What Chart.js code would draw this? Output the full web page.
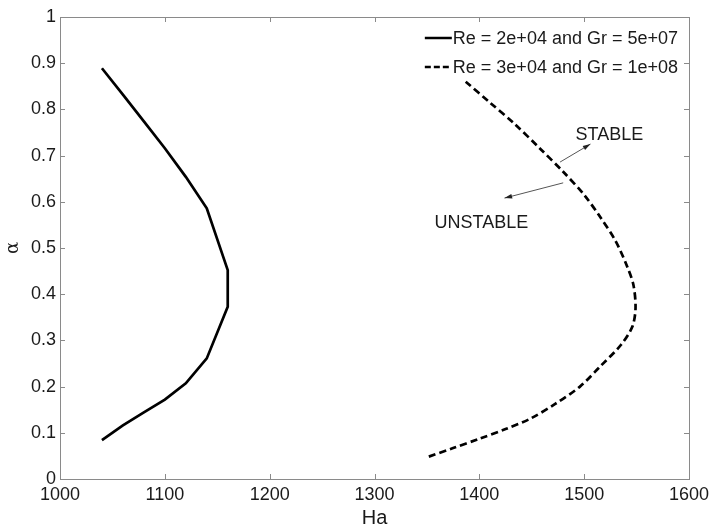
<!DOCTYPE html>
<html>
<head>
<meta charset="utf-8">
<script src="https://cdn.jsdelivr.net/npm/chart.js@4"></script>
<style>
  body { margin: 0; background: #fff; }
  #wrap { width: 725px; height: 531px; }
</style>
</head>
<body>
<div id="wrap"><canvas id="stab"></canvas></div>
<script>
// ---------------- data ----------------
const haTicks = [1000, 1100, 1200, 1300, 1400, 1500, 1600];
const alphaTicks = [0, 0.1, 0.2, 0.3, 0.4, 0.5, 0.6, 0.7, 0.8, 0.9, 1];

// Re = 2e+04, Gr = 5e+07 (solid)
const solidHa    = [1040, 1060, 1080, 1100, 1120, 1140, 1160, 1160, 1140, 1120, 1100, 1080, 1060, 1040];
const solidAlpha = [0.889, 0.832, 0.774, 0.716, 0.654, 0.586, 0.452, 0.373, 0.261, 0.207, 0.172, 0.144, 0.116, 0.084];

// Re = 3e+04, Gr = 1e+08 (dashed)
const dashedHa    = [1387, 1410, 1433, 1458, 1480, 1500, 1515, 1530, 1541, 1547, 1549, 1546, 1535, 1515, 1496, 1472, 1449, 1425, 1400, 1375, 1350];
const dashedAlpha = [0.86, 0.815, 0.77, 0.715, 0.665, 0.615, 0.568, 0.515, 0.46, 0.42, 0.37, 0.33, 0.29, 0.243, 0.2, 0.162, 0.131, 0.108, 0.087, 0.067, 0.047];

const seriesLabels = ['Re = 2e+04 and Gr = 5e+07', 'Re = 3e+04 and Gr = 1e+08'];

// text labels with arrows (data coords)
const notes = [
    { text: 'STABLE',   at: [1524, 0.745], from: [1477, 0.686], to: [1506, 0.725] },
    { text: 'UNSTABLE', at: [1402, 0.554], from: [1480, 0.641], to: [1424, 0.608] }
];

const FONT = '"Liberation Sans", Arial, sans-serif';
const AXIS = '#8a8a8a';
const INK = '#1a1a1a';

function toPoints(xs, ys){
    return xs.map((v, i) => ({ x: v, y: ys[i] }));
}

// ---------------- box, inward ticks, legend, notes ----------------
const overlay = {
    id: 'overlay',
    afterDatasetsDraw(chart){
        const { ctx, chartArea: a, scales: { x, y } } = chart;
        ctx.save();

        ctx.strokeStyle = AXIS;
        ctx.lineWidth = 1;
        ctx.strokeRect(a.left + 0.5, a.top + 0.5, a.right - a.left, a.bottom - a.top);

        ctx.beginPath();
        haTicks.forEach(v => {
            const px = Math.round(x.getPixelForValue(v)) + 0.5;
            ctx.moveTo(px, a.bottom); ctx.lineTo(px, a.bottom - 5);
            ctx.moveTo(px, a.top);    ctx.lineTo(px, a.top + 5);
        });
        alphaTicks.forEach(v => {
            const py = Math.round(y.getPixelForValue(v)) + 0.5;
            ctx.moveTo(a.left, py);  ctx.lineTo(a.left + 5, py);
            ctx.moveTo(a.right, py); ctx.lineTo(a.right - 5, py);
        });
        ctx.stroke();

        // legend, top right inside the box
        ctx.font = '18px ' + FONT;
        ctx.fillStyle = INK;
        ctx.textBaseline = 'middle';
        ctx.textAlign = 'left';
        const w = Math.max(...seriesLabels.map(s => ctx.measureText(s).width));
        const tx = a.right - 11 - w;
        chart.data.datasets.forEach((ds, i) => {
            const ly = a.top + 21 + i * 29;
            ctx.strokeStyle = '#000';
            ctx.lineWidth = 2.5;
            ctx.setLineDash(ds.borderDash ? [6, 3] : []);
            ctx.beginPath();
            ctx.moveTo(tx - 28, ly); ctx.lineTo(tx - 1, ly);
            ctx.stroke();
            ctx.setLineDash([]);
            ctx.fillText(seriesLabels[i], tx, ly + 1);
        });

        // STABLE / UNSTABLE with arrows
        ctx.textAlign = 'center';
        notes.forEach(n => {
            ctx.fillStyle = INK;
            ctx.fillText(n.text, x.getPixelForValue(n.at[0]), y.getPixelForValue(n.at[1]));
            const x0 = x.getPixelForValue(n.from[0]), y0 = y.getPixelForValue(n.from[1]);
            const x1 = x.getPixelForValue(n.to[0]),   y1 = y.getPixelForValue(n.to[1]);
            ctx.strokeStyle = '#555';
            ctx.lineWidth = 1;
            ctx.beginPath();
            ctx.moveTo(x0, y0); ctx.lineTo(x1, y1);
            ctx.stroke();
            const ang = Math.atan2(y1 - y0, x1 - x0);
            ctx.fillStyle = '#222';
            ctx.beginPath();
            ctx.moveTo(x1, y1);
            ctx.lineTo(x1 - 8 * Math.cos(ang - 0.3), y1 - 8 * Math.sin(ang - 0.3));
            ctx.lineTo(x1 - 8 * Math.cos(ang + 0.3), y1 - 8 * Math.sin(ang + 0.3));
            ctx.closePath();
            ctx.fill();
        });

        ctx.restore();
    }
};

// ---------------- chart ----------------
const data = {
    datasets: [{
        label: seriesLabels[0],
        data: toPoints(solidHa, solidAlpha),
        borderColor: '#000',
        borderWidth: 2.7,
        showLine: true,
        pointRadius: 0,
        tension: 0
    }, {
        label: seriesLabels[1],
        data: toPoints(dashedHa, dashedAlpha),
        borderColor: '#000',
        borderWidth: 2.7,
        borderDash: [7, 4],
        showLine: true,
        pointRadius: 0,
        tension: 0.3
    }]
};

const config = {
    type: 'scatter',
    data: data,
    options: {
        responsive: true,
        maintainAspectRatio: false,
        animation: false,
        layout: { padding: { top: 17, right: 36, left: 0, bottom: 0 } },
        plugins: {
            legend: { display: false },
            tooltip: { enabled: false }
        },
        scales: {
            x: {
                type: 'linear',
                min: 1000,
                max: 1600,
                afterBuildTicks: s => { s.ticks = haTicks.map(v => ({ value: v })); },
                afterFit: s => { s.height = 52; },
                grid: { display: false, drawTicks: false },
                border: { display: false },
                ticks: { color: INK, font: { family: FONT, size: 18 }, padding: 5, maxRotation: 0, callback: v => String(v) },
                title: { display: true, text: 'Ha', color: INK, font: { family: FONT, size: 20 }, padding: { top: 0, bottom: 1 } }
            },
            y: {
                type: 'linear',
                min: 0,
                max: 1,
                afterBuildTicks: s => { s.ticks = alphaTicks.map(v => ({ value: v })); },
                afterFit: s => { s.width = 60; },
                grid: { display: false, drawTicks: false },
                border: { display: false },
                ticks: { color: INK, font: { family: FONT, size: 18 }, padding: 4, callback: v => String(v) },
                title: { display: true, text: 'α', color: INK, font: { family: '"DejaVu Serif", serif', size: 18 }, padding: { top: 3, bottom: 0 } }
            }
        }
    },
    plugins: [overlay]
};

new Chart(document.getElementById('stab'), config);
</script>
</body>
</html>
